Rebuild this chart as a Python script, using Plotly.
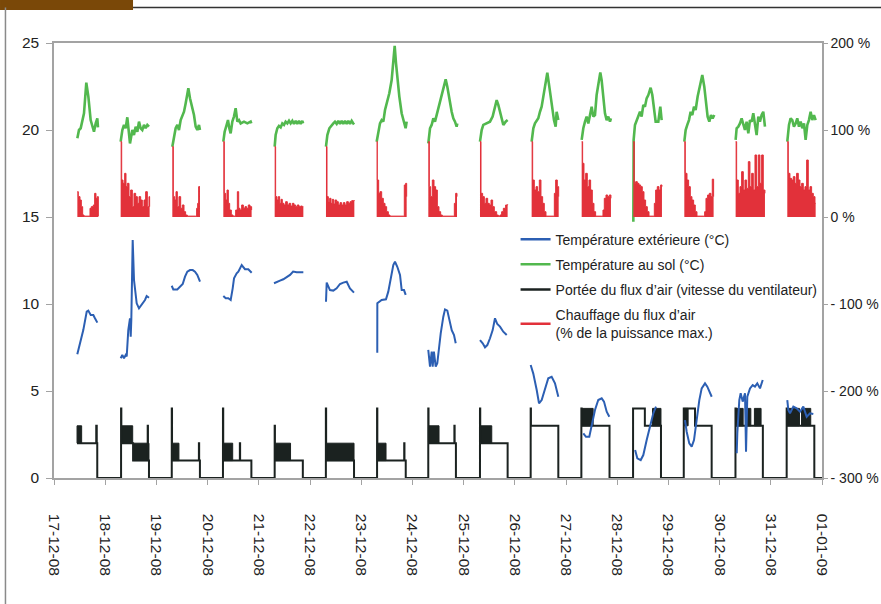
import datetime as dt
import plotly.graph_objects as go

BASE = dt.datetime(2008, 12, 17)

# ---------------- DATA (time in days since 17-12-08 00:00) ----------------
date_labels = ["17-12-08", "18-12-08", "19-12-08", "20-12-08", "21-12-08", "22-12-08",
               "23-12-08", "24-12-08", "25-12-08", "26-12-08", "27-12-08", "28-12-08",
               "29-12-08", "30-12-08", "31-12-08", "01-01-09"]
left_ticks = [0, 5, 10, 15, 20, 25]
right_ticks = [-300, -200, -100, 0, 100, 200]
right_labels = ["- 300 %", "- 200 %", "- 100 %", "0 %", "100 %", "200 %"]

# Température extérieure (°C)
blue_t = [
    [0.455, 0.54, 0.572, 0.639, 0.67, 0.717, 0.768, 0.80, 0.846],
    [1.303, 1.334, 1.367, 1.40, 1.42, 1.451, 1.484, 1.498, 1.51, 1.537, 1.5625, 1.615, 1.66, 1.713, 1.777, 1.81, 1.855],
    [2.299, 2.33, 2.408, 2.461, 2.514, 2.559, 2.604, 2.656, 2.709, 2.754, 2.799, 2.852],
    [3.307, 3.354, 3.404, 3.451, 3.49, 3.516, 3.568, 3.6, 3.666, 3.73, 3.795, 3.861],
    [4.297, 4.35, 4.414, 4.479, 4.545, 4.61, 4.67, 4.74, 4.87],
    [5.3125, 5.326, 5.39, 5.455, 5.52, 5.586, 5.65, 5.717, 5.78, 5.859],
    [6.314, 6.315, 6.4, 6.484, 6.529, 6.576, 6.627, 6.66, 6.705, 6.758, 6.791, 6.836, 6.869],
    [7.31, 7.344, 7.377, 7.396, 7.42, 7.455, 7.486, 7.506, 7.553, 7.604, 7.637, 7.682, 7.72, 7.768, 7.8125, 7.846],
    [8.32, 8.373, 8.418, 8.463, 8.516, 8.568, 8.613, 8.658, 8.711, 8.775, 8.842],
    [9.31, 9.361, 9.428, 9.473, 9.525, 9.59, 9.654, 9.72, 9.785, 9.85],
    [10.338, 10.39, 10.455, 10.502, 10.566, 10.63, 10.697, 10.742, 10.795, 10.846],
    [11.35, 11.393, 11.459, 11.51, 11.576, 11.64, 11.705, 11.758],
    [12.324, 12.357, 12.408, 12.455, 12.5, 12.553, 12.604, 12.65, 12.715, 12.76, 12.81, 12.846],
    [13.334, 13.346, 13.385, 13.412, 13.451, 13.496, 13.516, 13.541, 13.594, 13.646, 13.691, 13.736, 13.789, 13.842],
    [14.322, 14.342, 14.375, 14.44, 14.506, 14.57, 14.635, 14.701, 14.766, 14.83],
]
blue_v = [
    [7.11, 8.12, 8.5, 9.56, 9.62, 9.37, 9.37, 9.18, 8.93],
    [6.88, 7.07, 6.88, 7.07, 6.98, 8.5, 9.18, 8.12, 9.08, 13.68, 11.38, 10.04, 9.75, 9.94, 10.23, 10.46, 10.36],
    [11.05, 10.84, 10.84, 10.99, 11.15, 11.57, 11.86, 11.95, 11.95, 11.86, 11.67, 11.28],
    [10.46, 10.33, 10.33, 10.23, 10.9, 11.48, 11.76, 11.86, 12.24, 12.0, 12.0, 11.8],
    [11.19, 11.28, 11.34, 11.42, 11.53, 11.67, 11.86, 11.82, 11.82],
    [10.13, 11.23, 10.8, 10.77, 10.9, 11.15, 11.23, 11.28, 10.9, 10.65],
    [7.2, 10.04, 10.23, 10.27, 10.71, 11.48, 12.24, 12.43, 12.14, 11.67, 10.8, 10.8, 10.52],
    [7.36, 6.4, 7.26, 6.4, 7.26, 6.4, 6.59, 7.16, 8.31, 9.27, 9.69, 9.62, 9.08, 8.5, 8.22, 7.74],
    [7.93, 7.74, 7.51, 7.64, 8.03, 8.5, 9.18, 8.85, 8.7, 8.41, 8.22],
    [6.49, 6.0, 5.06, 4.29, 4.48, 5.15, 5.73, 5.82, 5.44, 4.67],
    [2.57, 2.37, 2.37, 2.95, 3.91, 4.48, 4.58, 4.39, 3.81, 3.52],
    [1.61, 1.13, 1.03, 1.32, 2.18, 2.95, 3.72, 4.1],
    [3.33, 2.66, 1.99, 1.8, 2.18, 3.33, 4.48, 5.15, 5.44, 5.25, 4.96, 4.67],
    [1.42, 2.57, 4.48, 4.87, 4.39, 4.87, 1.51, 4.67, 5.15, 5.34, 5.25, 5.44, 5.15, 5.63],
    [4.48, 3.91, 3.72, 4.1, 4.0, 3.81, 4.1, 3.52, 3.72, 3.68],
]

# Température au sol (°C)
green_t = [
    [0.456, 0.488, 0.521, 0.553, 0.586, 0.631, 0.671, 0.716, 0.749, 0.781, 0.814, 0.846, 0.859],
    [1.302, 1.335, 1.367, 1.400, 1.432, 1.465, 1.484, 1.530, 1.562, 1.595, 1.628, 1.660, 1.693, 1.725, 1.758, 1.790, 1.823, 1.855],
    [2.311, 2.344, 2.376, 2.409, 2.441, 2.474, 2.506, 2.539, 2.571, 2.604, 2.624, 2.656, 2.702, 2.734, 2.767, 2.799, 2.832, 2.851],
    [3.307, 3.333, 3.372, 3.398, 3.424, 3.450, 3.483, 3.515, 3.548, 3.581, 3.613, 3.646, 3.711, 3.776, 3.841, 3.854],
    [4.310, 4.329, 4.362, 4.394, 4.427, 4.459, 4.492, 4.524, 4.557, 4.590, 4.622, 4.655, 4.687, 4.720, 4.752, 4.785, 4.817, 4.850, 4.865],
    [5.312, 5.339, 5.378, 5.423, 5.456, 5.488, 5.521, 5.553, 5.586, 5.618, 5.651, 5.684, 5.716, 5.749, 5.781, 5.814, 5.846, 5.866],
    [6.302, 6.335, 6.367, 6.400, 6.432, 6.465, 6.510, 6.549, 6.595, 6.628, 6.654, 6.680, 6.706, 6.745, 6.790, 6.836, 6.868, 6.888],
    [7.311, 7.344, 7.376, 7.409, 7.441, 7.474, 7.506, 7.539, 7.604, 7.650, 7.682, 7.721, 7.767, 7.799, 7.832, 7.864, 7.877],
    [8.320, 8.353, 8.385, 8.450, 8.515, 8.567, 8.613, 8.646, 8.678, 8.711, 8.743, 8.776, 8.821, 8.860],
    [9.329, 9.362, 9.394, 9.427, 9.459, 9.492, 9.524, 9.557, 9.603, 9.635, 9.674, 9.720, 9.765, 9.798, 9.817, 9.850],
    [10.306, 10.338, 10.371, 10.403, 10.436, 10.468, 10.501, 10.533, 10.566, 10.598, 10.631, 10.670, 10.696, 10.729, 10.761, 10.794, 10.826, 10.859, 10.878],
    [11.315, 11.321, 11.347, 11.380, 11.412, 11.445, 11.477, 11.510, 11.542, 11.575, 11.608, 11.653, 11.686, 11.705, 11.725, 11.751, 11.803, 11.842, 11.868],
    [12.311, 12.337, 12.369, 12.402, 12.434, 12.467, 12.499, 12.532, 12.571, 12.617, 12.662, 12.701, 12.734, 12.766, 12.799, 12.831, 12.864, 12.896],
    [13.313, 13.333, 13.365, 13.398, 13.430, 13.463, 13.495, 13.528, 13.561, 13.593, 13.626, 13.658, 13.691, 13.723, 13.756, 13.788, 13.821, 13.853, 13.886],
    [14.322, 14.355, 14.387, 14.420, 14.452, 14.485, 14.517, 14.550, 14.583, 14.615, 14.648, 14.680, 14.713, 14.745, 14.778, 14.810, 14.843, 14.876],
]
green_v = [
    [19.52, 20.0, 20.1, 20.57, 20.96, 22.72, 21.92, 20.57, 20.29, 19.9, 20.38, 20.67, 20.15],
    [19.33, 20.0, 20.29, 20.1, 20.73, 19.81, 19.23, 20.0, 19.71, 20.19, 19.9, 20.48, 20.1, 20.0, 20.29, 20.1, 20.29, 20.19],
    [19.04, 19.71, 20.1, 20.29, 20.0, 20.57, 20.77, 21.05, 21.53, 22.11, 22.40, 21.82, 21.25, 20.86, 20.19, 20.0, 20.29, 20.0],
    [19.33, 19.9, 20.29, 20.57, 20.1, 19.81, 20.48, 20.77, 21.25, 20.48, 20.57, 20.38, 20.48, 20.38, 20.48, 20.38],
    [19.04, 19.71, 20.1, 20.23, 20.15, 20.38, 20.29, 20.48, 20.38, 20.53, 20.38, 20.53, 20.35, 20.53, 20.35, 20.53, 20.35, 20.53, 20.38],
    [19.04, 19.71, 20.1, 20.23, 20.38, 20.48, 20.35, 20.53, 20.35, 20.53, 20.35, 20.53, 20.35, 20.53, 20.35, 20.53, 20.38, 20.42],
    [19.33, 20.0, 20.38, 20.57, 20.48, 21.15, 21.63, 22.11, 22.87, 24.02, 24.83, 23.83, 22.87, 21.92, 20.96, 20.48, 20.1, 20.48],
    [19.23, 20.1, 20.29, 20.67, 20.48, 20.86, 21.25, 21.63, 22.49, 22.91, 22.49, 21.72, 21.05, 20.67, 20.48, 20.19, 20.38],
    [19.33, 20.0, 20.29, 20.38, 20.48, 20.77, 21.34, 21.72, 21.44, 21.05, 20.57, 20.29, 20.48, 20.57],
    [19.33, 20.1, 20.38, 20.57, 20.67, 21.05, 21.34, 21.92, 22.68, 23.29, 22.49, 21.44, 20.57, 20.19, 21.05, 20.57],
    [19.43, 20.1, 20.48, 20.77, 20.38, 20.96, 21.34, 20.77, 20.86, 22.01, 22.68, 23.31, 22.87, 21.72, 20.96, 20.57, 20.77, 20.48, 20.67],
    [14.73, 19.43, 20.29, 20.57, 20.86, 21.05, 20.77, 21.44, 21.34, 21.82, 22.01, 22.43, 22.01, 21.53, 20.86, 20.48, 20.48, 21.34, 20.57],
    [19.33, 20.0, 20.29, 20.57, 21.05, 20.86, 21.34, 21.15, 21.92, 22.59, 23.16, 22.49, 21.53, 20.77, 20.48, 20.86, 20.67, 20.86],
    [19.43, 20.1, 20.19, 20.38, 20.67, 20.29, 20.0, 20.48, 19.81, 20.57, 20.48, 20.96, 20.38, 19.71, 20.77, 20.48, 20.86, 21.05, 20.19],
    [19.33, 20.29, 20.67, 20.57, 20.19, 20.38, 20.67, 20.19, 20.48, 20.1, 20.38, 19.43, 20.29, 20.57, 21.05, 20.57, 20.86, 20.57],
]

# Chauffage du flux d'air (% de la puissance max.) -- right axis
red_t = [
    [0.456, 0.475, 0.508, 0.534, 0.560, 0.586, 0.684, 0.703, 0.729, 0.768, 0.794, 0.820, 0.846, 0.866],
    [1.302, 1.322, 1.348, 1.380, 1.406, 1.432, 1.465, 1.497, 1.530, 1.562, 1.595, 1.628, 1.660, 1.693, 1.725, 1.758, 1.790, 1.823, 1.855, 1.868],
    [2.311, 2.331, 2.357, 2.383, 2.409, 2.441, 2.474, 2.506, 2.539, 2.571, 2.604, 2.767, 2.786, 2.806, 2.825, 2.851],
    [3.307, 3.327, 3.353, 3.379, 3.405, 3.431, 3.463, 3.496, 3.548, 3.581, 3.607, 3.633, 3.665, 3.698, 3.730, 3.763, 3.795, 3.828, 3.860],
    [4.310, 4.329, 4.355, 4.381, 4.407, 4.433, 4.459, 4.492, 4.524, 4.557, 4.590, 4.622, 4.655, 4.687, 4.720, 4.752, 4.785, 4.817, 4.850, 4.870],
    [5.312, 5.332, 5.358, 5.384, 5.410, 5.436, 5.462, 5.488, 5.521, 5.553, 5.586, 5.618, 5.651, 5.684, 5.716, 5.749, 5.781, 5.814, 5.846, 5.866],
    [6.302, 6.315, 6.341, 6.367, 6.400, 6.432, 6.465, 6.497, 6.530, 6.562, 6.823, 6.842, 6.868, 6.888],
    [7.311, 7.331, 7.357, 7.389, 7.422, 7.454, 7.487, 7.519, 7.552, 7.584, 7.799, 7.819, 7.845, 7.871],
    [8.320, 8.340, 8.372, 8.405, 8.437, 8.470, 8.502, 8.535, 8.567, 8.600, 8.646, 8.678, 8.711, 8.743, 8.776, 8.821, 8.860],
    [9.329, 9.349, 9.381, 9.414, 9.446, 9.479, 9.511, 9.544, 9.576, 9.609, 9.752, 9.772, 9.798, 9.830, 9.857],
    [10.306, 10.325, 10.351, 10.384, 10.416, 10.449, 10.481, 10.514, 10.546, 10.579, 10.696, 10.722, 10.748, 10.781, 10.813, 10.846, 10.878],
    [11.315, 11.334, 11.360, 11.393, 11.425, 11.458, 11.490, 11.523, 11.555, 11.588, 11.621, 11.705, 11.725, 11.751, 11.783, 11.816, 11.848, 11.874],
    [12.311, 12.330, 12.363, 12.395, 12.428, 12.460, 12.493, 12.525, 12.558, 12.682, 12.708, 12.734, 12.766, 12.799, 12.831, 12.857, 12.883],
    [13.313, 13.333, 13.365, 13.398, 13.430, 13.463, 13.495, 13.528, 13.561, 13.593, 13.626, 13.658, 13.691, 13.723, 13.756, 13.788, 13.821, 13.853, 13.886],
    [14.322, 14.342, 14.374, 14.407, 14.439, 14.472, 14.504, 14.537, 14.570, 14.602, 14.635, 14.667, 14.700, 14.732, 14.765, 14.797, 14.830, 14.863, 14.876],
]
red_v = [
    [29.1, 23.4, 19.5, 11.9, 2.3, 1, 1, 10, 11.9, 13.8, 27.2, 21.5, 23.4, 1],
    [86.6, 42.5, 38.7, 50.2, 34.9, 38.7, 23.4, 31, 11.9, 27.2, 23.4, 15.7, 23.4, 19.5, 11.9, 19.5, 29.1, 11.9, 23.4, 11.9],
    [80.8, 23.4, 19.5, 29.1, 11.9, 23.4, 10, 13.8, 6.1, 2.3, 1, 1, 10, 15.7, 34.9, 34.9],
    [86.6, 27.2, 19.5, 31, 15.7, 8, 2.3, 1, 8, 29.1, 10, 8, 13.8, 10, 11.9, 10, 13.8, 11.9, 8],
    [80.8, 23.4, 19.5, 23.4, 15.7, 20.3, 15.7, 13.8, 17.6, 13.8, 15.7, 12.6, 15.7, 13.8, 11.9, 13.8, 11.9, 12.6, 11.9, 11.9],
    [80.8, 23.4, 17.6, 21.5, 15.7, 20.3, 14.9, 19.5, 17.6, 13.8, 16.5, 13.8, 16.5, 13.8, 17.6, 15.7, 17.6, 18.8, 18.8, 19.5],
    [86.6, 42.5, 27.2, 29.1, 21.5, 15.7, 11.9, 6.1, 2.3, 1, 1, 36.8, 38.7, 23.4],
    [86.6, 34.9, 23.4, 42.5, 34.9, 31, 11.9, 6.1, 2.3, 1, 1, 15.7, 27.2, 23.4],
    [86.6, 27.2, 23.4, 15.7, 21.5, 15.7, 13.8, 19.5, 11.9, 6.1, 2.3, 1, 2.3, 6.1, 10, 13.8, 14.6],
    [86.6, 42.5, 31, 34.9, 29.1, 42.5, 23.4, 15.7, 6.1, 1, 1, 27.2, 42.5, 34.9, 23.4],
    [86.6, 61.7, 42.5, 50.2, 34.9, 42.5, 31, 15.7, 6.1, 1, 1, 8, 21.5, 25.3, 23.4, 25.3, 21.5],
    [86.6, 38.7, 40.6, 38.7, 36.8, 34.9, 29.1, 19.5, 11.9, 6.1, 1, 1, 15.7, 31, 34.9, 31, 36.8, 34.9],
    [86.6, 50.2, 42.5, 34.9, 23.4, 19.5, 13.8, 6.1, 1, 1, 6.1, 21.5, 25.3, 27.2, 23.4, 43.5, 23.4],
    [86.6, 42.5, 27.2, 34.9, 52.1, 31, 42.5, 32.9, 63.6, 34.9, 50.2, 31, 71.3, 34.9, 71.3, 38.7, 71.3, 31, 27.2],
    [86.6, 50.2, 44.4, 42.5, 46.4, 38.7, 50.2, 42.5, 34.9, 38.7, 31, 34.9, 65.5, 31, 34.9, 27.2, 23.4, 15.7, 15.7],
]

# Portée du flux d'air (vitesse du ventilateur) -- step levels (change times / new level)
fan_t = [
    0.45, 0.825, 0.835, 0.845,
    1.31, 1.315, 1.545, 1.83, 1.835, 1.855,
    2.30, 2.305, 2.83, 2.835, 2.85,
    3.30, 3.305, 3.63, 3.635, 3.855,
    4.31, 4.315, 4.86,
    5.31, 5.315, 5.86,
    6.31, 6.315, 6.84, 6.845, 6.87,
    7.31, 7.315, 7.82, 7.825, 7.85,
    8.32, 8.325, 8.86,
    9.31, 9.315, 9.85,
    10.30, 10.305, 10.85,
    11.31, 11.54, 11.855,
    12.30, 12.52, 12.845,
    13.31, 13.315, 13.845,
    14.31, 14.315, 14.85, 15.0,
]
fan_v = [
    2, 3, 2, 0,
    4, 2, 1, 3, 1, 0,
    4, 1, 2, 1, 0,
    4, 1, 2, 1, 0,
    3, 1, 0,
    4, 1, 0,
    4, 1, 2, 1, 0,
    4, 2, 3, 2, 0,
    4, 2, 0,
    4, 3, 0,
    4, 3, 0,
    4, 3, 0,
    4, 3, 0,
    4, 3, 0,
    4, 3, 0, 0,
]
# fast fan-speed oscillation bands (start, end, low level, high level)
band_start = [0.45, 1.315, 1.549, 2.305, 3.305, 4.315, 5.315, 6.315, 7.315, 8.325, 10.305, 11.69, 12.30, 13.315, 13.53, 13.68, 14.315, 14.60]
band_end = [0.54, 1.537, 1.855, 2.44, 3.49, 4.62, 5.86, 6.485, 7.52, 8.55, 10.53, 11.855, 12.385, 13.46, 13.61, 13.81, 14.56, 14.78]
band_low = [2, 2, 1, 1, 1, 1, 1, 1, 2, 2, 3, 3, 3, 3, 3, 3, 3, 3]
band_high = [3, 3, 2, 2, 2, 2, 2, 2, 3, 3, 4, 4, 4, 4, 4, 4, 4, 4]

# ---------------- helpers ----------------
def when(t):
    return BASE + dt.timedelta(days=t)


def join(segs_t, segs_v):
    xs, ys = [], []
    for ts, vs in zip(segs_t, segs_v):
        xs += [when(t) for t in ts] + [None]
        ys += list(vs) + [None]
    return xs, ys


FONT = "Liberation Sans, Arial, Helvetica, sans-serif"
BLUE = "#2c5fb3"
GREEN = "#52b84e"
BLACK = "#1b2220"
RED = "#e2313a"
GREY = "#a3a3a3"

fig = go.Figure()

# oscillation bands
bx, by = [], []
for s, e, lo, hi in zip(band_start, band_end, band_low, band_high):
    bx += [when(s), when(e), when(e), when(s), when(s), None]
    by += [lo, lo, hi, hi, lo, None]
fig.add_trace(go.Scatter(x=bx, y=by, mode="lines", fill="toself", fillcolor=BLACK,
                         line=dict(color=BLACK, width=1), showlegend=False, hoverinfo="skip"))

# fan step line
fig.add_trace(go.Scatter(x=[when(t) for t in fan_t], y=fan_v, mode="lines",
                         line=dict(color=BLACK, width=2, shape="hv"), showlegend=False))

# ground temperature
gx, gy = join(green_t, green_v)
fig.add_trace(go.Scatter(x=gx, y=gy, mode="lines", line=dict(color=GREEN, width=2.6),
                         connectgaps=False, showlegend=False))

# heating (right axis) - one filled trace per heating period
for ts, vs in zip(red_t, red_v):
    fig.add_trace(go.Scatter(x=[when(t) for t in ts], y=vs, yaxis="y2", mode="lines",
                             fill="tozeroy", fillcolor=RED,
                             line=dict(color=RED, width=1, shape="hv"), showlegend=False))

# outside temperature
ox, oy = join(blue_t, blue_v)
fig.add_trace(go.Scatter(x=ox, y=oy, mode="lines", line=dict(color=BLUE, width=2),
                         connectgaps=False, showlegend=False))

# legend entries
legend_items = [("Température extérieure (°C)", BLUE),
                ("Température au sol (°C)", GREEN),
                ("Portée du flux d’air (vitesse du ventilateur)", BLACK),
                ("Chauffage du flux d’air<br>(% de la puissance max.)", RED)]
for i, (name, col) in enumerate(legend_items):
    fig.add_trace(go.Scatter(x=[None], y=[None], mode="lines", name=name, legendgroup=f"g{i}",
                             line=dict(color=col, width=2.5)))

fig.update_layout(
    width=881, height=604,
    margin=dict(l=54, r=59, t=43, b=126, autoexpand=False),
    paper_bgcolor="white", plot_bgcolor="white",
    font=dict(family=FONT, size=15, color="#222222"),
    showlegend=True,
    legend=dict(x=0.601, y=0.585, xanchor="left", yanchor="top",
                bgcolor="rgba(255,255,255,0)", font=dict(size=14, color="#222222"),
                tracegroupgap=4, itemwidth=30),
    xaxis=dict(type="date", range=[when(0), when(15)],
               tickvals=[when(i) for i in range(len(date_labels))], ticktext=date_labels,
               tickangle=90, ticks="outside", ticklen=5, tickcolor=GREY,
               showline=True, linecolor=GREY, linewidth=1.5, mirror=True,
               showgrid=False, zeroline=False, ticklabelstandoff=26, automargin=False,
               tickfont=dict(size=15.5)),
    yaxis=dict(range=[0, 25], tickvals=left_ticks, ticks="outside", ticklen=6,
               tickcolor=GREY, showline=True, linecolor=GREY, linewidth=1.5,
               showgrid=False, zeroline=False, ticklabelstandoff=4, automargin=False,
               tickfont=dict(size=15.5)),
    yaxis2=dict(range=[-300, 200], overlaying="y", side="right", tickvals=right_ticks,
                ticktext=right_labels, ticks="outside", ticklen=4, tickcolor=GREY,
                showline=True, linecolor=GREY, linewidth=1.5, showgrid=False,
                zeroline=False, automargin=False, tickfont=dict(size=14)),
    shapes=[
        dict(type="rect", xref="paper", yref="paper", x0=-0.0703, x1=0.1029, y0=1.0759, y1=1.10,
             fillcolor="#7a4808", line=dict(width=0), layer="above"),
        dict(type="line", xref="paper", yref="paper", x0=0.1029, x1=1.08, y0=1.0816, y1=1.0816,
             line=dict(color="#333333", width=1.5)),
        dict(type="line", xref="paper", yref="paper", x0=-0.0632, x1=-0.0632, y0=1.0816, y1=-0.30,
             line=dict(color="#8a8a8a", width=1.5)),
    ],
)

fig.write_html("out.html", config={"displayModeBar": False},
               post_script="document.body.style.margin='0';")
